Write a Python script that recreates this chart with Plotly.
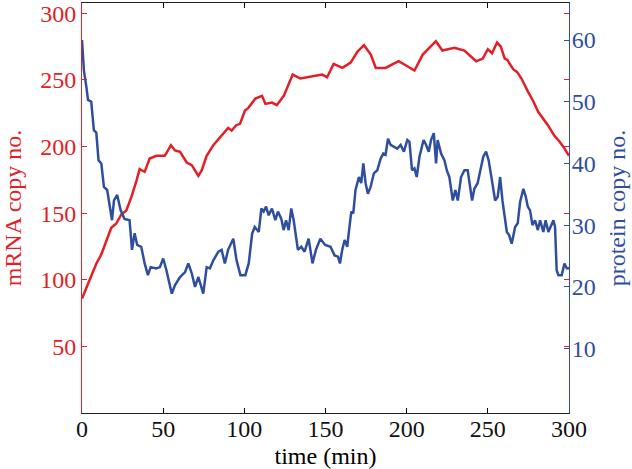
import plotly.graph_objects as go

# ---- data ----
mrna_t = [0, 2.7, 5.7, 8.8, 11.9, 15, 18, 21, 24.2, 27.3,
          30.4, 33.5, 35.5, 38.6, 41.7, 45.8, 49.9, 51, 54.8, 57.3,
          60.4, 64.5, 67.6, 71.7, 73.7, 76.8, 80.9, 86, 90, 92.2,
          95, 97.3, 100.4, 102.5, 106.8, 110.9, 113, 117, 120, 124.3,
          127.3, 129.8, 134.5, 139.7, 147.9, 151, 155, 160.4, 165.5, 169.6,
          173.7, 177.9, 181, 187, 190, 195, 199.4, 204.8, 209.9, 218,
          222, 229.4, 235.6, 239.7, 242.8, 246.9, 250, 252.6, 255.7, 258,
          260.4, 262, 265.6, 268, 270.7, 274.8, 278, 281, 284, 287,
          291, 294, 297, 300]
mrna_v = [86, 94, 104, 112, 119, 129, 139, 142, 149, 152,
          162, 174, 183, 181, 191, 193, 193, 193, 201, 197,
          196, 188, 186, 178, 182, 193, 201, 208, 214, 212,
          216, 217, 227, 229, 236, 238, 232, 233, 231, 238,
          247, 254, 251, 252, 254, 252, 262, 259, 263, 271,
          276, 269, 259, 259, 261, 264, 261, 257, 269, 279,
          272, 274, 272, 267, 264, 266, 273, 270, 278, 275,
          266, 265, 258, 256, 251, 241, 234, 226, 221, 216,
          208, 204, 199, 193]

prot_t = [0, 1.2, 2.7, 3.7, 5.7, 7.3, 8.8, 10.2, 11.9, 13.5,
          15.5, 17, 18.5, 19.7, 21.7, 23.8, 26.2, 29.3, 30.8, 32.4,
          34, 36.5, 38.6, 40.6, 42.3, 45.8, 48, 50, 52, 55.3,
          57.3, 60.4, 63.5, 65.5, 67.6, 69.6, 71.7, 74.7, 76.8, 78.8,
          80.9, 84, 86, 88, 90, 93.2, 95.2, 97.6, 100.6, 102.7,
          104.8, 106.4, 108.9, 110.5, 111.9, 113.4, 115, 117, 119.1, 120.7,
          122.8, 124.2, 125.7, 127.3, 128.9, 130.4, 131.8, 133, 135.1, 137.1,
          139.6, 142, 144.1, 146.8, 149.8, 153.1, 155.6, 157.7, 158.9, 160.3,
          161.8, 163.4, 164.4, 165.9, 167.1, 168.5, 170.6, 172, 173.3, 174.7,
          176.1, 177.8, 179.8, 181.9, 184, 185.6, 187, 188.5, 190.1, 192.2,
          194.2, 196.3, 198.3, 200.4, 201.7, 203.3, 204.8, 206.2, 207.9, 210.4,
          212, 213.6, 215, 216.7, 218.1, 219.1, 221.2, 223.3, 224.7, 226.3,
          228.4, 230, 231.5, 233.5, 235.6, 237.6, 238.6, 240.3, 241.7, 243.7,
          245.8, 247.2, 248.9, 250.5, 252.5, 254.5, 256.1, 257.6, 259, 260.6,
          261.7, 263.1, 264.7, 266.8, 268.4, 269.9, 271.9, 273.4, 274.6, 276,
          277.5, 279.1, 280.8, 282.2, 284.2, 285.6, 287.3, 290.4, 291.4, 292.4,
          293.5, 295.5, 297.2, 298.6, 300]
prot_v = [60, 55, 52.4, 50.3, 50, 45.4, 45, 40.5, 40, 36.2,
          35.7, 33, 30.8, 34, 34.9, 32.4, 31, 30.8, 26, 28.7,
          26.8, 26.5, 23.8, 21.9, 23.2, 23, 23.2, 24.6, 22.7, 18.9,
          20.3, 21.6, 22.4, 23.8, 22.2, 20, 21.6, 18.9, 23.2, 23,
          24.3, 25.7, 26, 23.8, 26, 27.8, 24.3, 21.9, 21.9, 23.8,
          28.6, 29.7, 28.9, 32.7, 32.2, 33, 31.6, 32.7, 30.8, 32.2,
          31, 29.2, 30.8, 29.2, 32.7, 30.8, 28.6, 26, 26.5, 25.7,
          27.8, 23.8, 26, 27.8, 26.8, 26.5, 25.1, 24.9, 23.8, 26,
          27.6, 26.5, 28.9, 32.2, 31.9, 35.7, 37.8, 36.8, 40, 36.8,
          35.1, 36.2, 38.4, 38.9, 40.8, 41.6, 41.4, 44, 43, 42.7,
          42.4, 43, 41.9, 43.8, 43.5, 38.9, 39.2, 37.8, 41.1, 43.8,
          43, 41.9, 43.8, 44.9, 40, 43.8, 41.6, 40.5, 38.9, 37.8,
          34, 35.7, 34, 37.8, 38.9, 38.9, 37.3, 34, 35.9, 36.8,
          39.4, 41.1, 41.9, 40.5, 37.3, 34, 34.6, 37.8, 34, 31.3,
          28.9, 28.4, 27, 29.7, 30.3, 33.8, 35.9, 34.6, 33, 32.4,
          30, 30.8, 29.2, 30.8, 28.9, 30.8, 28.9, 30.8, 29.7, 22.7,
          21.9, 21.9, 23.8, 23, 23]

x_ticks = [0, 50, 100, 150, 200, 250, 300]
mrna_ticks = [50, 100, 150, 200, 250, 300]
prot_ticks = [10, 20, 30, 40, 50, 60]

RED = "#e31e26"
BLUE = "#2f4f9e"
FONT = "Liberation Serif"
FS = 24

fig = go.Figure()
fig.add_trace(go.Scatter(x=mrna_t, y=mrna_v, mode="lines", yaxis="y",
                         line=dict(color=RED, width=2.5), showlegend=False))
# invisible carrier trace for mirrored red ticks on the right side
fig.add_trace(go.Scatter(x=mrna_t, y=mrna_v, mode="lines", yaxis="y3",
                         line=dict(color="rgba(0,0,0,0)", width=0),
                         hoverinfo="skip", showlegend=False))
fig.add_trace(go.Scatter(x=prot_t, y=prot_v, mode="lines", yaxis="y2",
                         line=dict(color=BLUE, width=2.5), showlegend=False))

fig.update_layout(
    width=632, height=469,
    margin=dict(l=82, r=63, t=3, b=56),
    paper_bgcolor="white", plot_bgcolor="white",
    font=dict(family=FONT, size=FS, color="black"),
    xaxis=dict(range=[0, 300], tickvals=x_ticks, ticks="inside", ticklen=5,
               tickcolor="black", showline=True, linecolor="#222",
               linewidth=1, mirror="ticks", showgrid=False, zeroline=False,
               automargin=False, ticklabelstandoff=-6,
               title=dict(text="time (min)", standoff=8,
                          font=dict(family=FONT, size=FS, color="black")),
               tickfont=dict(family=FONT, size=FS, color="#111")),
    yaxis=dict(range=[0, 307.7], tickvals=mrna_ticks, ticks="inside",
               ticklen=5, tickcolor=RED, showline=True, linecolor=RED,
               linewidth=1, showgrid=False, zeroline=False, automargin=False,
               title=dict(text="mRNA copy no.", standoff=13,
                          font=dict(family=FONT, size=FS, color=RED)),
               tickfont=dict(family=FONT, size=FS, color=RED)),
    yaxis2=dict(range=[-0.44, 66.0], tickvals=prot_ticks, ticks="inside",
                ticklen=5, tickcolor=BLUE, showline=True, linecolor=BLUE,
                linewidth=1, showgrid=False, zeroline=False, automargin=False,
                overlaying="y", side="right", ticklabelstandoff=-3,
                title=dict(text="protein copy no.", standoff=13,
                           font=dict(family=FONT, size=FS, color=BLUE)),
                tickfont=dict(family=FONT, size=FS, color=BLUE)),
    yaxis3=dict(range=[0, 307.7], tickvals=mrna_ticks, ticks="inside",
                ticklen=5, tickcolor=RED, showline=False, automargin=False,
                showticklabels=False, showgrid=False, zeroline=False,
                overlaying="y", side="right"),
)

fig.write_html("out.html",
               config={"displayModeBar": False},
               post_script="document.body.style.margin='0';"
                           "document.body.style.overflow='hidden';")
